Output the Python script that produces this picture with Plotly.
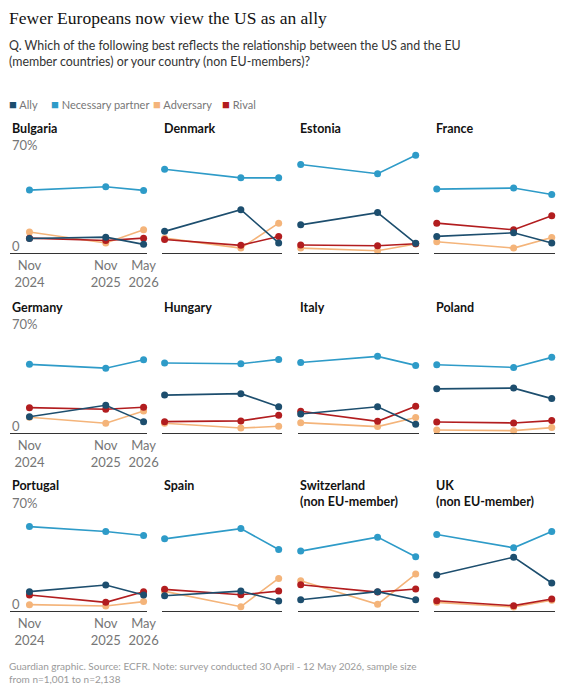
import pandas as pd
import plotly.graph_objects as go
from plotly.subplots import make_subplots

# survey waves
waves = ["2024-11-15", "2025-11-15", "2026-05-15"]
wave_labels = ["Nov<br>2024", "Nov<br>2025", "May<br>2026"]

countries = ["Bulgaria", "Denmark", "Estonia", "France",
             "Germany", "Hungary", "Italy", "Poland",
             "Portugal", "Spain", "Switzerland<br>(non EU-member)", "UK<br>(non EU-member)"]

# share of respondents (%), one list per country, in wave order
ally = [
    [10, 11, 6], [15, 30, 7], [19.5, 28, 6.7], [11.5, 14, 7],
    [11.2, 19, 7.8], [26, 27, 18], [13, 18, 6], [30.3, 30.8, 23.6],
    [13.4, 18, 11.1], [10.6, 13.8, 6.9], [7.8, 13.4, 7.8], [25, 37.3, 19.4],
]
partner = [
    [43.6, 45.9, 43.4], [58.1, 52.1, 52.1], [61.3, 54.9, 67.7], [44.3, 45, 40.6],
    [47.1, 44.5, 50.3], [48, 47.5, 50.5], [48.4, 52.6, 46.4], [46.8, 45, 51.9],
    [58.5, 55.1, 52.3], [50, 57.1, 42.6], [41.5, 51.2, 37.6], [53, 43.8, 55.1],
]
adversary = [
    [14.5, 6.9, 16.1], [10.3, 3.4, 20.7], [3.4, 1.6, 6.2], [7.8, 3.4, 10.8],
    [10.8, 6.7, 15.1], [6.7, 3.4, 4.6], [7.1, 4.4, 10.6], [2.1, 1.6, 3.7],
    [4.4, 3.5, 6.5], [13.6, 3, 22.6], [21, 4.6, 25.6], [6, 2.8, 7.4],
]
rival = [
    [10.3, 8.7, 10.3], [9.4, 5.3, 11.5], [5.5, 5, 6.4], [20.7, 16.1, 25.9],
    [17.4, 16.3, 17.7], [7.8, 8.3, 12.2], [14.9, 8, 18.4], [7.6, 6.9, 8.5],
    [11.1, 6, 13.4], [15, 11.3, 13.8], [18.2, 13.1, 15.2], [7.1, 3.7, 8.3],
]

# the page body has an 8px margin, so the figure is drawn 8px in from the corner
OFF = 8
W, H = 576 - OFF, 686 - OFF
colors = {"Ally": "#1d4e6e", "Necessary partner": "#2e9bc8",
          "Adversary": "#f4b47a", "Rival": "#b21d1f"}
series = [("Adversary", adversary), ("Rival", rival),
          ("Necessary partner", partner), ("Ally", ally)]

def px_x(p):
    return (p - OFF) / W

def px_y(p):
    return 1 - (p - OFF) / H

col_px = [(10, 150), (165, 288), (304, 428), (443, 567)]
row_px = [(152, 253), (331, 433), (510, 611)]
title_px = [128, 307, 485]

fig = make_subplots(rows=3, cols=4)
dates = pd.to_datetime(waves)
span = (dates[-1] - dates[0]) / 117  # time per pixel

for i, name in enumerate(countries):
    r, c = i // 4 + 1, i % 4 + 1
    for label, data in series:
        fig.add_trace(go.Scatter(
            x=dates, y=data[i], mode="lines+markers", name=label,
            line=dict(color=colors[label], width=1.6),
            marker=dict(color=colors[label], size=7),
            cliponaxis=False, showlegend=False, hoverinfo="skip"), row=r, col=c)
    n = "" if i == 0 else str(i + 1)
    left_pad = 20 if c == 1 else 3
    x0, x1 = col_px[c - 1]
    y0, y1 = row_px[r - 1]
    fig.layout["xaxis" + n].update(
        domain=[px_x(x0), px_x(x1)],
        range=[dates[0] - span * left_pad, dates[-1] + span * 3.5],
        showgrid=False, zeroline=False, showline=True, linecolor="#333333", linewidth=1,
        tickvals=dates, ticktext=wave_labels, ticks="",
        showticklabels=(c == 1), tickfont=dict(family="Lato", size=13, color="#767676"))
    fig.layout["yaxis" + n].update(
        domain=[px_y(y1), px_y(y0)], range=[0, 70],
        tickvals=[70], showticklabels=False, showgrid=True,
        gridcolor="#e4e4e4", gridwidth=1, zeroline=False)
    ty = title_px[r - 1] + (8 if "<br>" in name else 0)
    fig.add_annotation(
        text="<b>%s</b>" % name, x=px_x(x0), y=px_y(ty),
        xref="paper", yref="paper", xanchor="left", yanchor="middle", align="left",
        showarrow=False, font=dict(family="Lato", size=12.5, color="#121212"))
    if c == 1:
        fig.add_annotation(text="70%", x=px_x(x0), y=px_y(y0 - 7), xref="paper", yref="paper",
                           xanchor="left", yanchor="middle", showarrow=False,
                           font=dict(family="Lato", size=13, color="#767676"))
        fig.add_annotation(text="0", x=px_x(x0), y=px_y(y1 - 7), xref="paper", yref="paper",
                           xanchor="left", yanchor="middle", showarrow=False,
                           font=dict(family="Lato", size=13, color="#767676"))

# headline, standfirst, legend, footer
fig.add_annotation(text="Fewer Europeans now view the US as an ally", x=px_x(7), y=px_y(18),
                   xref="paper", yref="paper", xanchor="left", yanchor="middle", showarrow=False,
                   font=dict(family="Liberation Serif", size=17.5, color="#121212"))
fig.add_annotation(text="Q. Which of the following best reflects the relationship between the US and the EU<br>"
                        "(member countries) or your country (non EU-members)?",
                   x=px_x(7), y=px_y(54), xref="paper", yref="paper", xanchor="left", yanchor="middle",
                   align="left", showarrow=False, font=dict(family="Lato", size=12.4, color="#333333"))
legend_x = [7, 50, 154, 225]
for label, lx in zip(["Ally", "Necessary partner", "Adversary", "Rival"], legend_x):
    fig.add_annotation(text="<span style='color:%s;font-size:13px'>■</span> %s" % (colors[label], label),
                       x=px_x(lx), y=px_y(104), xref="paper", yref="paper", xanchor="left",
                       yanchor="middle", showarrow=False,
                       font=dict(family="Lato", size=11, color="#777777"))
fig.add_annotation(text="Guardian graphic. Source: ECFR. Note: survey conducted 30 April - 12 May 2026, sample size<br>"
                        "from n=1,001 to n=2,138",
                   x=px_x(7), y=px_y(672), xref="paper", yref="paper", xanchor="left", yanchor="middle",
                   align="left", showarrow=False, font=dict(family="Lato", size=10, color="#9a9a9a"))

fig.update_layout(width=W, height=H, margin=dict(l=0, r=0, t=0, b=0),
                  plot_bgcolor="white", paper_bgcolor="white", showlegend=False)

fig.write_html("out.html")
